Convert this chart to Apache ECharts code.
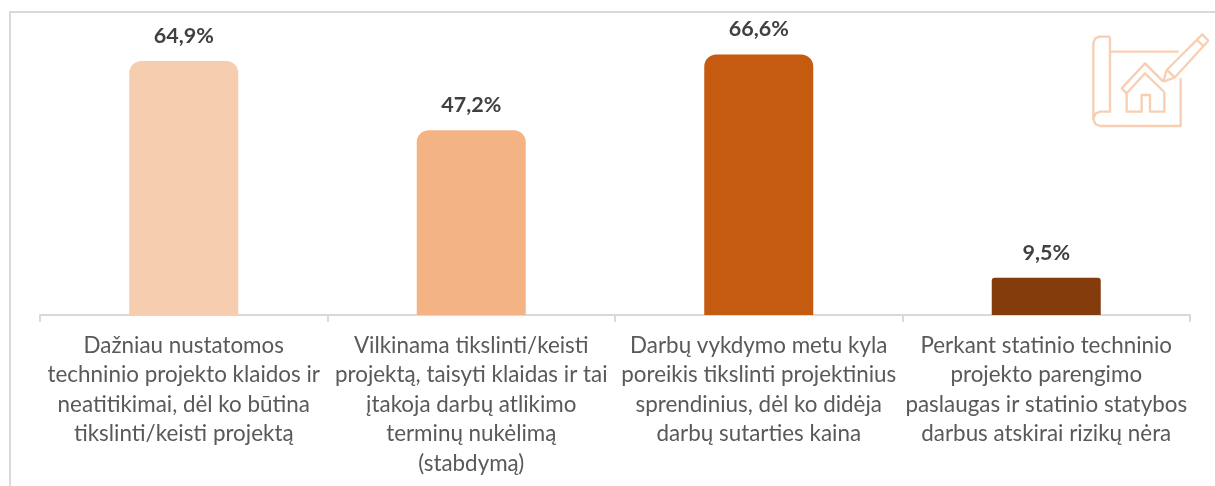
<!DOCTYPE html>
<html><head><meta charset="utf-8">
<style>html,body{margin:0;padding:0;background:#fff}#c{width:1215px;height:486px}</style>
<script src="https://cdn.jsdelivr.net/npm/echarts@6/dist/echarts.min.js"></script>
</head><body><div id="c"></div>
<script>
const categories = [
  "Dažniau nustatomos\ntechninio projekto klaidos ir\nneatitikimai, dėl ko būtina\ntikslinti/keisti projektą",
  "Vilkinama tikslinti/keisti\nprojektą, taisyti klaidas ir tai\nįtakoja darbų atlikimo\nterminų nukėlimą\n(stabdymą)",
  "Darbų vykdymo metu kyla\nporeikis tikslinti projektinius\nsprendinius, dėl ko didėja\ndarbų sutarties kaina",
  "Perkant statinio techninio\nprojekto parengimo\npaslaugas ir statinio statybos\ndarbus atskirai rizikų nėra"
];
const values = [64.9, 47.2, 66.6, 9.5];
const barColors = ["#f7cdb0", "#f4b384", "#c55a11", "#843c0c"];
const barRadii = [12, 12, 12, 3];
const iconColor = "#f8cfb3";
const font = "Lato, 'Open Sans', sans-serif";

const iconLines = [
  [[150,110],[118,110],[106,115],[100,128],[100,358],[106,372],[120,378],[362,378],[362,235]],
  [[150,110],[150,335],[120,335],[106,341],[100,358]],
  [[150,155],[356,155]],
  [[200,280],[185,265],[255,190],[310,245]],
  [[200,280],[255,220],[313,276]],
  [[200,280],[200,335],[245,335],[245,285],[270,285],[270,335],[313,335],[313,276]],
  [[310,245],[320,210],[427,103],[445,122],[345,232],[310,245]],
  [[320,210],[345,232]],
  [[410,119],[430,138]]
];

const chart = echarts.init(document.getElementById("c"), null, {renderer: "canvas"});
chart.setOption({
  animation: false,
  grid: {left: 40, width: 1150, top: 2, height: 313},
  xAxis: {
    type: "category", data: categories,
    axisLine: {lineStyle: {color: "#d9d9d9", width: 2}},
    axisTick: {show: true, length: 7, lineStyle: {color: "#d9d9d9", width: 2}},
    axisLabel: {
      interval: 0, color: "#595959", fontFamily: font, fontSize: 22.4,
      lineHeight: 29.4, margin: 16, align: "center", verticalAlign: "top"
    }
  },
  yAxis: {type: "value", min: 0, max: 80, show: false},
  series: [{
    type: "bar", barWidth: 109,
    data: values.map((v, i) => ({value: v, itemStyle: {color: barColors[i], borderRadius: [barRadii[i], barRadii[i], 0, 0]}})),
    label: {
      show: true, position: "top", distance: 14,
      color: "#404040", fontFamily: font, fontSize: 21.5, fontWeight: "bold",
      formatter: p => p.value.toFixed(1).replace(".", ",") + "%"
    }
  }],
  graphic: [
    {type: "polyline", silent: true, shape: {points: [[10, 486], [10, 12], [1215, 12]]},
     style: {stroke: "#d9d9d9", lineWidth: 2, fill: null}},
    ...iconLines.map(pts => ({
      type: "polyline", silent: true, x: 1060, y: 0, scaleX: 1/3, scaleY: 1/3,
      shape: {points: pts},
      style: {stroke: iconColor, lineWidth: 7, fill: null, lineJoin: "round"}
    }))
  ]
});
</script></body></html>
